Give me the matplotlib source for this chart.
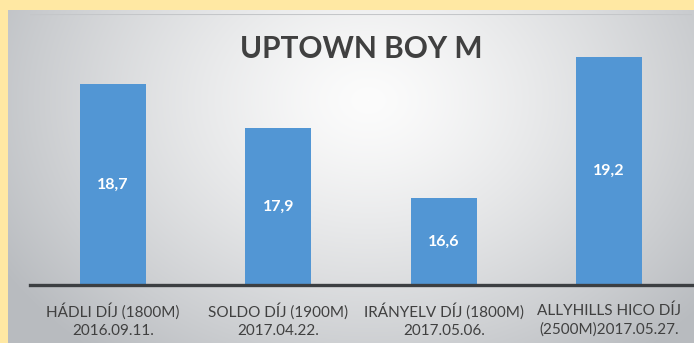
import matplotlib
matplotlib.use('Agg')
import matplotlib.pyplot as plt
import numpy as np

# Versenyek és az elért idők
races = ['HÁDLI DÍJ (1800M)\n2016.09.11.',
         'SOLDO DÍJ (1900M)\n2017.04.22.',
         'IRÁNYELV DÍJ (1800M)\n2017.05.06.',
         'ALLYHILLS HICO DÍJ\n(2500M)2017.05.27.']
values = [18.7, 17.9, 16.6, 19.2]
labels = ['18,7', '17,9', '16,6', '19,2']

W, H = 694, 343
BAR = '#5296d4'
TXT = '#404040'

plt.rcParams['font.family'] = ['Lato', 'DejaVu Sans']

fig = plt.figure(figsize=(W / 100, H / 100), dpi=100)
fig.patch.set_facecolor('#ffe8a3')

# szürke panel sugaras átmenettel
bg = fig.add_axes([8 / W, 0, 1 - 8 / W, 1 - 10 / H])
bg.set_axis_off()
yy, xx = np.mgrid[0:333, 0:686]
r = np.sqrt(((xx - 360) / 430.0) ** 2 + ((yy - 90) / 330.0) ** 2)
r = np.clip(r, 0, 1)
top = np.array([252, 252, 252]) / 255.0
edge = np.array([184, 187, 191]) / 255.0
img = top[None, None, :] + (edge - top)[None, None, :] * (r[..., None] ** 1.3)
bg.imshow(img, aspect='auto', extent=(0, 1, 0, 1), origin='upper')
bg.set_xlim(0, 1)
bg.set_ylim(0, 1)

ax = fig.add_axes([30 / W, 58 / H, 662 / W, (285 - 14) / H])
ax.patch.set_alpha(0)
x = np.arange(len(races))
bars = ax.bar(x, [v - 15 for v in values], bottom=15, width=0.4, color=BAR)
ax.set_ylim(15, 20)
ax.set_xlim(-0.5, len(races) - 0.5)

for b, v, lab in zip(bars, values, labels):
    ax.text(b.get_x() + b.get_width() / 2, (15 + v) / 2, lab, ha='center', va='center',
            color='white', fontsize=11.5, fontweight='bold')

ax.set_yticks([20])
ax.set_yticklabels([])
ax.yaxis.grid(True, color='#c4c6c9', linewidth=1.5)
ax.tick_params(axis='y', length=0)
ax.set_xticks(x)
ax.set_xticklabels(races, fontsize=11, color=TXT, linespacing=1.4)
ax.tick_params(axis='x', length=0, pad=13)
for s in ['top', 'left', 'right']:
    ax.spines[s].set_visible(False)
ax.spines['bottom'].set_color('#3c3f42')
ax.spines['bottom'].set_linewidth(2.4)

fig.text(361 / W, 1 - 49 / H, 'UPTOWN BOY M', ha='center', va='center',
         fontsize=21.5, fontweight='bold', color=TXT)

fig.savefig('out.png', dpi=100)
